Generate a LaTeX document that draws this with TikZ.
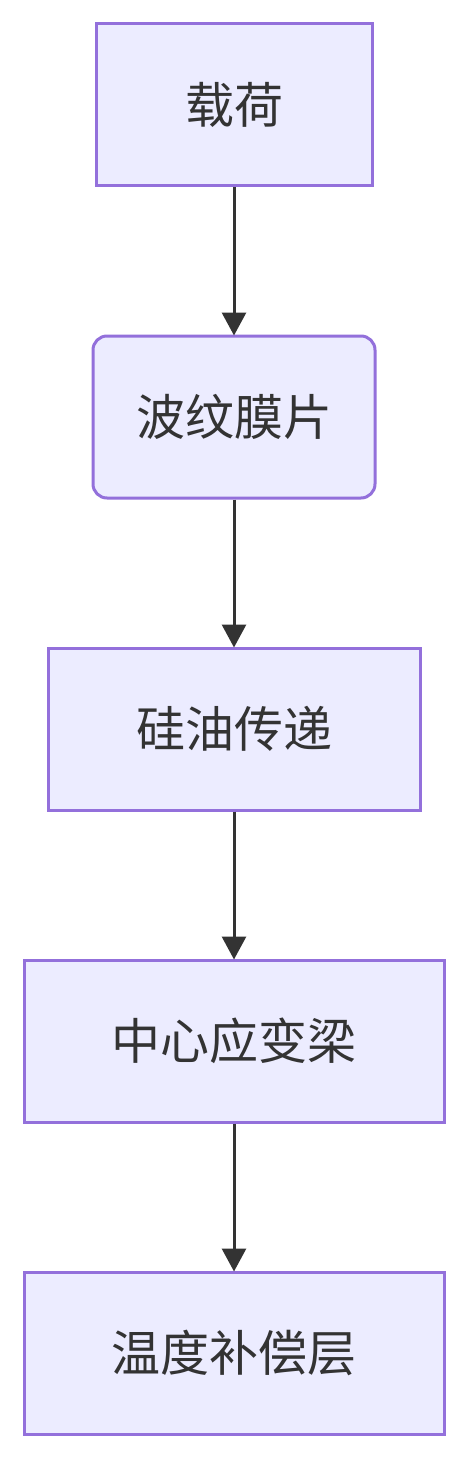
\documentclass[tikz,border=0pt]{standalone}
\usepackage{fontspec}
\setmainfont{Noto Sans CJK SC}
\usetikzlibrary{arrows.meta}
\definecolor{nodefill}{HTML}{ECECFF}
\definecolor{nodeline}{HTML}{9370DB}
\definecolor{edgecol}{HTML}{333333}
\begin{document}
\begin{tikzpicture}[x=1pt,y=-1pt,
  box/.style={draw=nodeline,fill=nodefill,line width=3pt,minimum height=162pt,inner sep=0pt,
    text=edgecol,font=\fontsize{49}{52}\selectfont},
  edge/.style={draw=edgecol,line width=3pt,shorten >=-1pt,-{Triangle[length=23pt,width=24pt]}}]
\useasboundingbox (0,0) rectangle (468,1458);
\fill[white] (0,0) rectangle (468,1458);
\node[box,minimum width=276pt] (a) at (234,105) {载荷};
\node[box,minimum width=282pt,rounded corners=14pt] (b) at (234,417) {波纹膜片};
\node[box,minimum width=372pt] (c) at (234,729) {硅油传递};
\node[box,minimum width=420pt] (d) at (234,1041) {中心应变梁};
\node[box,minimum width=420pt] (e) at (234,1353) {温度补偿层};
\draw[edge] (a.south) -- (b.north);
\draw[edge] (b.south) -- (c.north);
\draw[edge] (c.south) -- (d.north);
\draw[edge] (d.south) -- (e.north);
\end{tikzpicture}
\end{document}
